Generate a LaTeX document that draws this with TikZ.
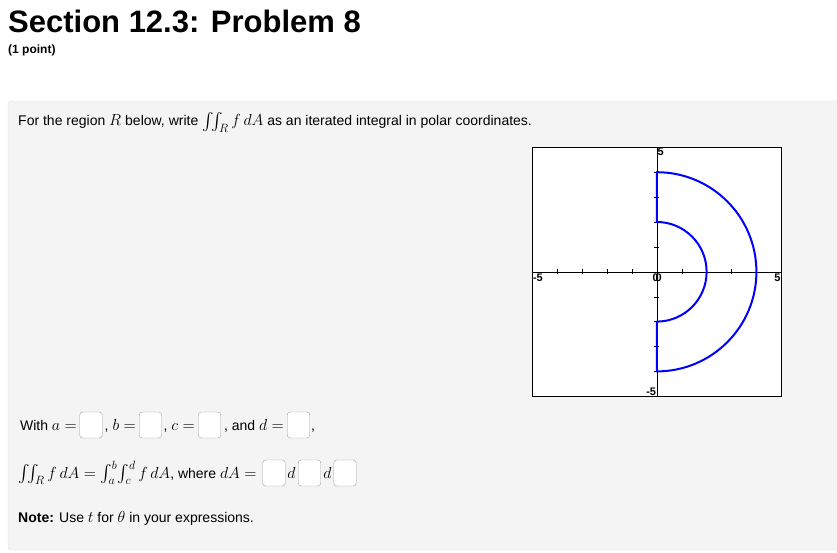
\documentclass[tikz,border=0pt]{standalone}
\usepackage{fix-cm}
\usepackage{amsmath}
\usepackage{fontspec}
\setmainfont{Liberation Sans}
\usetikzlibrary{positioning}
\DeclareMathSizes{14}{16}{12}{10}

\definecolor{panelfill}{HTML}{F4F4F4}
\definecolor{panelline}{HTML}{DEDEDE}
\definecolor{boxline}{HTML}{9E9E9E}

\tikzset{
  txt/.style={inner sep=0pt, anchor=base west, font=\fontsize{14}{17}\selectfont},
  ansbox/.style={draw=boxline, fill=white, rounded corners=3pt, inner sep=0pt,
    minimum width=22.5pt, minimum height=26pt},
  ticklbl/.style={inner sep=0.5pt, font=\fontsize{11}{12}\selectfont\bfseries},
  region/.style={draw=blue, line width=2pt, line join=round}
}

\begin{document}
\begin{tikzpicture}[x=1pt, y=-1pt]
  \useasboundingbox (0,0) rectangle (837,553);

  % header
  \node[txt, font=\fontsize{31}{34}\selectfont\bfseries] (title) at (8,33) {Section 12.3: Problem 8};
  \node[txt, font=\fontsize{12}{14}\selectfont\bfseries] (points) at (8,54) {(1 point)};

  % grey problem panel
  \draw[panelline, fill=panelfill, rounded corners=3pt] (8,101) rectangle (845,550);

  \node[txt] (prompt) at (18,126)
    {For the region $R$ below, write $\iint_R f\,dA$ as an iterated integral in polar coordinates.};

  % the graph
  \draw[black, fill=white] (532.3,147.3) rectangle (781.3,396.3);
  \begin{scope}[shift={(656.8,271.8)}, x=24.9pt, y=24.9pt]
    \draw (-5,0) -- (5,0);
    \draw (0,-5) -- (0,5);
    \foreach \i in {-4,...,4}{
      \draw (\i,-0.1) -- (\i,0.1);
      \draw (-0.1,\i) -- (0.1,\i);
    }
    \draw[region] (0,4) arc[start angle=90, end angle=-90, radius=4]
      -- (0,-2) arc[start angle=-90, end angle=90, radius=2] -- cycle;
    \node[ticklbl, anchor=north west] (ytop) at (0,5) {5};
    \node[ticklbl, anchor=south east] (ybot) at (0,-5) {-5};
    \node[ticklbl, anchor=north west] (xleft) at (-5,-0.05) {-5};
    \node[ticklbl, anchor=north east] (xright) at (5,-0.05) {5};
    \node[ticklbl, anchor=north] (zeroa) at (-0.05,-0.05) {0};
    \node[ticklbl, anchor=north] (zerob) at (0.08,-0.05) {0};
  \end{scope}

  % first answer line
  \node[txt, anchor=base east] (lbla) at (77,430) {With $a=$};
  \node[ansbox] (boxa) at (91,425) {};
  \node[txt, anchor=base east] (lblb) at (136,430) {, $b=$};
  \node[ansbox] (boxb) at (150.5,425) {};
  \node[txt, anchor=base east] (lblc) at (195,430) {, $c=$};
  \node[ansbox] (boxc) at (209.5,425) {};
  \node[txt, anchor=base east] (lbld) at (284,430) {, and $d=$};
  \node[ansbox] (boxd) at (298.5,425) {};
  \node[txt] (enda) at (311,430) {,};

  % second answer line
  \node[txt] (iter) at (18,478)
    {$\iint_R f\,dA=\int_a^b\!\int_c^d f\,dA$, where $dA=$};
  \node[ansbox] (boxda) at (274,473) {};
  \node[txt, anchor=base] (dfirst) at (291.5,478) {$d$};
  \node[ansbox] (boxdb) at (309.5,473) {};
  \node[txt, anchor=base] (dsecond) at (327.5,478) {$d$};
  \node[ansbox] (boxdc) at (345,473) {};

  \node[txt] (note) at (18,522) {\textbf{Note:} Use $t$ for $\theta$ in your expressions.};
\end{tikzpicture}
\end{document}
